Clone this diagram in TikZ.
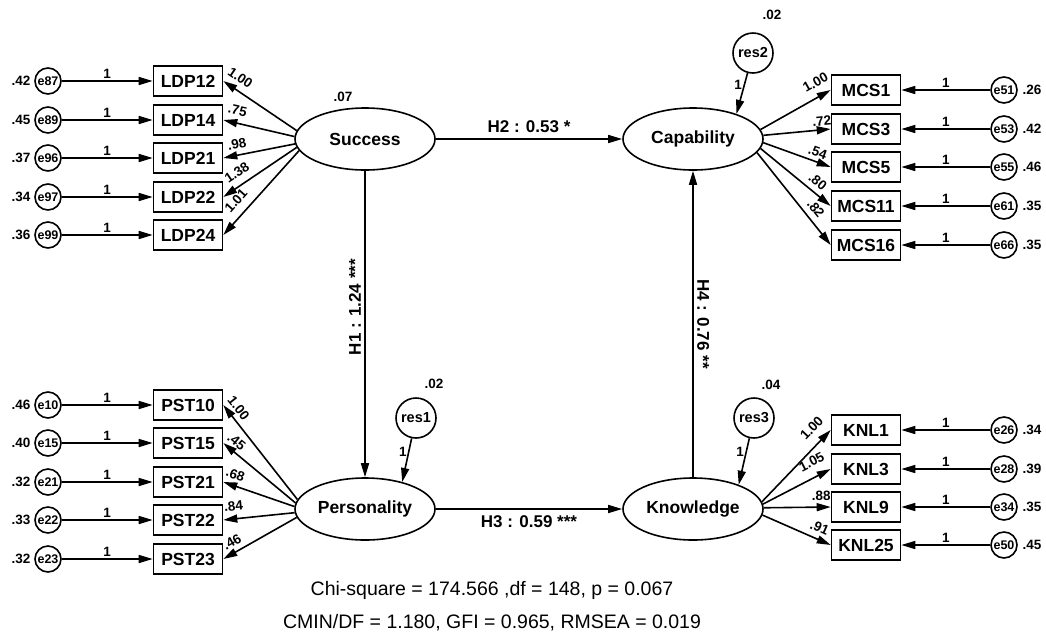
\documentclass[tikz,border=0pt]{standalone}
\usepackage{fontspec}
\setmainfont{Liberation Sans}
\usetikzlibrary{shapes.geometric,arrows.meta}
\begin{document}
\begin{tikzpicture}[x=1pt,y=-1pt,
  lw/.style={line width=1.6pt},
  arr/.style={lw,-{Triangle[length=14pt,width=8pt]}},
  obs/.style={draw,lw,rectangle,minimum width=69pt,minimum height=30pt,inner sep=0pt,font=\fontsize{17.5}{19}\selectfont\bfseries},
  lat/.style={draw,lw,ellipse,minimum width=140pt,minimum height=62pt,inner sep=0pt,font=\fontsize{17.5}{19}\selectfont\bfseries},
  err/.style={draw,lw,circle,minimum size=26pt,inner sep=0pt,font=\fontsize{12.5}{13}\selectfont\bfseries},
  res/.style={draw,lw,circle,minimum size=40pt,inner sep=0pt,font=\fontsize{14.5}{15}\selectfont\bfseries},
  sm/.style={font=\fontsize{13.5}{14}\selectfont\bfseries,inner sep=1.5pt},
  hl/.style={font=\fontsize{17}{19}\selectfont\bfseries},
  fit/.style={font=\fontsize{19.5}{22}\selectfont},
]
\useasboundingbox (0,0) rectangle (1046,641);

% latent variables
\node[lat] (S) at (365,139) {Success};
\node[lat] (C) at (693,139) {Capability};
\node[lat] (P) at (365,509) {Personality};
\node[lat] (K) at (693,509) {Knowledge};

% residuals
\node[res] (r2) at (753,53) {res2};
\node[res] (r1) at (416,418) {res1};
\node[res] (r3) at (754,418) {res3};

% variances of latents / residuals
\node[sm] (v07) at (343,97) {.07};
\node[sm] (v02a) at (772,15) {.02};
\node[sm] (v02b) at (434,384) {.02};
\node[sm] (v04) at (771,385) {.04};

% Success indicators
\foreach \n/\y/\e/\v/\l/\a/\p/\d [count=\i] in {LDP12/81/e87/.42/1.00/173/0.86/5, LDP14/120/e89/.45/.75/178/0.84/5.5, LDP21/158/e96/.37/.98/184/0.78/4, LDP22/197/e97/.34/1.38/187/0.72/5.5, LDP24/235/e99/.36/1.01/190/0.70/6.5} {
  \node[obs] (L\i) at (188,\y) {\n};
  \node[err] (EL\i) at (48,\y) {\e};
  \node[sm] (VL\i) at (21,\y) {\v};
  \draw[arr] (EL\i) -- (L\i) node[sm,midway,above] (OL\i) {1};
  \draw[arr] (S.\a) -- (L\i.east) node[sm,sloped,above=\d pt,pos=\p] (WL\i) {\l};
}

% Personality indicators
\foreach \n/\y/\e/\v/\l/\a/\p/\d [count=\i] in {PST10/405/e10/.46/1.00/172/0.90/3, PST15/443/e15/.40/.45/175/0.90/2.5, PST21/482/e21/.32/.68/178/0.88/4, PST22/520/e22/.33/.84/183/0.84/5.5, PST23/559/e23/.32/.46/187/0.81/3.5} {
  \node[obs] (Q\i) at (188,\y) {\n};
  \node[err] (EQ\i) at (48,\y) {\e};
  \node[sm] (VQ\i) at (21,\y) {\v};
  \draw[arr] (EQ\i) -- (Q\i) node[sm,midway,above] (OQ\i) {1};
  \draw[arr] (P.\a) -- (Q\i.east) node[sm,sloped,above=\d pt,pos=\p] (WQ\i) {\l};
}

% Capability indicators
\foreach \n/\y/\e/\v/\l/\a/\p/\d [count=\i] in {MCS1/90/e51/.26/1.00/8/0.88/7, MCS3/129/e53/.42/.72/3/0.88/2, MCS5/167/e55/.46/.54/357/0.76/2.5, MCS11/206/e61/.35/.80/352/0.72/3.5, MCS16/245/e66/.35/.82/348/0.68/4} {
  \node[obs] (M\i) at (866,\y) {\n};
  \node[err] (EM\i) at (1004,\y) {\e};
  \node[sm] (VM\i) at (1032,\y) {\v};
  \draw[arr] (EM\i) -- (M\i) node[sm,midway,above] (OM\i) {1};
  \draw[arr] (C.\a) -- (M\i.west) node[sm,sloped,above=\d pt,pos=\p] (WM\i) {\l};
}

% Knowledge indicators
\foreach \n/\y/\e/\v/\l/\a/\p/\d [count=\i] in {KNL1/430/e26/.34/1.00/6/0.88/8, KNL3/469/e28/.39/1.05/4/0.82/8, KNL9/507/e34/.35/.88/1/0.86/4, KNL25/545/e50/.45/.91/355/0.77/4.5} {
  \node[obs] (N\i) at (866,\y) {\n};
  \node[err] (EN\i) at (1004,\y) {\e};
  \node[sm] (VN\i) at (1032,\y) {\v};
  \draw[arr] (EN\i) -- (N\i) node[sm,midway,above] (ON\i) {1};
  \draw[arr] (K.\a) -- (N\i.west) node[sm,sloped,above=\d pt,pos=\p] (WN\i) {\l};
}

% structural paths
\draw[arr] (S) -- (C) node[hl,midway,above=2pt] (h2) {H2 : 0.53 *};
\draw[arr] (S) -- (P) node[hl,pos=0.445,rotate=90,anchor=south] (h1) {H1 : 1.24 ***};
\draw[arr] (P) -- (K) node[hl,midway,below=2pt] (h3) {H3 : 0.59 ***};
\draw[arr] (K) -- (C) node[hl,midway,rotate=-90,anchor=south] (h4) {H4 : 0.76 **};

% residual paths
\draw[arr] (r2) -- (C.30) node[sm,pos=0.3,left] (o2) {1};
\draw[arr] (r1) -- (P.36) node[sm,pos=0.3,left] (o1) {1};
\draw[arr] (r3) -- (K.28) node[sm,pos=0.3,left] (o3) {1};

% fit indices
\node[fit] (chi1) at (492,590) {Chi-square = 174.566 ,df = 148, p = 0.067};
\node[fit] (chi2) at (492,623) {CMIN/DF = 1.180, GFI = 0.965, RMSEA = 0.019};
\end{tikzpicture}
\end{document}
